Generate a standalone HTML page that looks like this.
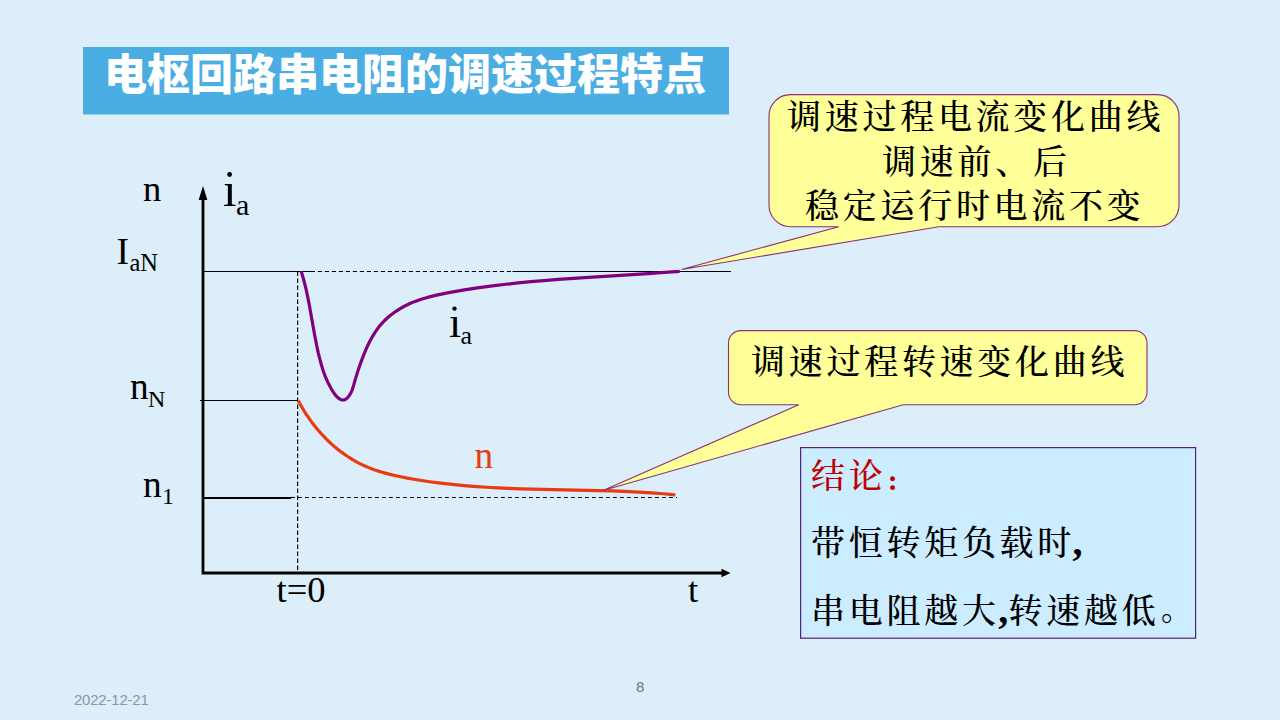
<!DOCTYPE html>
<html><head><meta charset="utf-8">
<style>
*{margin:0;padding:0;box-sizing:border-box}
html,body{width:1280px;height:720px;overflow:hidden}
body{background:#DBEEF9;position:relative}
svg{position:absolute;left:0;top:0}
.cj{font-family:"Liberation Serif","Noto Serif CJK SC",serif;font-size:34px;letter-spacing:3.72px;font-weight:500;fill:#000}
.lt{font-family:"Liberation Serif",serif;fill:#000}
.ti{font-family:"Liberation Sans","Noto Sans CJK SC",sans-serif;font-weight:900;font-size:43px;fill:#fff}
.cm{font-family:'Liberation Serif',serif;font-weight:bold;font-size:40px;letter-spacing:0}
.sm{font-family:"Liberation Sans",sans-serif;font-size:15px}
</style></head><body>
<svg width="1280" height="720" viewBox="0 0 1280 720">
 <rect x="83" y="47" width="646" height="67.5" fill="#4BAEE3"/>
 <text class="ti" x="104" y="90">电枢回路串电阻的调速过程特点</text>
 <g fill="none" stroke="#000">
  <line x1="203" y1="271.5" x2="315" y2="271.5" stroke-width="1.2"/>
  <line x1="317.8" y1="271.5" x2="512.5" y2="271.5" stroke-width="1.2" stroke-dasharray="4.2 2.8"/>
  <line x1="512.5" y1="271.5" x2="731" y2="271.5" stroke-width="1.2"/>
  <line x1="200" y1="400.5" x2="298" y2="400.5" stroke-width="1.2"/>
  <line x1="203" y1="498" x2="291" y2="498" stroke-width="2"/>
  <line x1="291" y1="497.5" x2="295" y2="497.5" stroke-width="1.2"/>
  <line x1="298" y1="497.5" x2="677" y2="497.5" stroke-width="1.2" stroke-dasharray="3.8 3.2"/>
  <line x1="297.6" y1="271.5" x2="297.6" y2="572" stroke-width="1.2" stroke-dasharray="4.4 2.6"/>
  <polyline points="203,198 203,573 723,573" stroke-width="2.8"/>
 </g>
 <polygon points="203,186 198.6,200 207.4,200" fill="#000"/>
 <polygon points="730.5,573 721.5,568.8 721.5,577.2" fill="#000"/>
 <path d="M301.20,271.30 L302.66,276.11 L304.08,281.23 L305.38,286.38 L306.70,292.10 L308.02,298.38 L309.35,305.22 L314.36,333.49 L316.74,345.80 L318.21,352.54 L319.70,358.70 L321.28,364.53 L322.81,369.55 L323.91,372.79 L325.02,375.77 L326.22,378.73 L327.54,381.68 L328.98,384.63 L330.42,387.32 L331.99,390.00 L333.53,392.44 L334.68,394.09 L335.92,395.66 L337.06,396.88 L338.28,397.97 L339.58,398.88 L340.70,399.45 L341.83,399.83 L342.95,399.97 L344.04,399.86 L345.10,399.49 L346.12,398.91 L347.09,398.13 L348.19,396.99 L349.21,395.66 L350.14,394.20 L351.10,392.39 L352.03,390.28 L352.97,387.61 L356.10,376.67 L358.89,368.02 L361.88,359.60 L364.72,352.36 L366.20,348.88 L367.78,345.43 L369.32,342.27 L370.83,339.39 L372.42,336.57 L374.09,333.81 L375.70,331.35 L377.40,328.95 L379.17,326.62 L380.87,324.58 L382.63,322.60 L384.66,320.51 L386.77,318.50 L388.95,316.58 L391.20,314.74 L393.53,312.99 L395.91,311.31 L398.58,309.58 L401.08,308.08 L403.86,306.53 L406.46,305.20 L409.34,303.83 L412.26,302.56 L415.21,301.38 L418.45,300.20 L421.97,299.02 L425.54,297.95 L429.39,296.88 L433.53,295.85 L437.70,294.89 L447.42,292.92 L461.40,290.44 L475.66,288.19 L490.46,286.13 L505.81,284.26 L518.00,282.94 L530.73,281.71 L543.99,280.55 L558.33,279.43 L584.91,277.59 L648.00,273.63 L664.78,272.45 L679.70,271.29" fill="none" stroke="#800080" stroke-width="3.2"/>
 <path d="M298.33,400.76 L300.28,404.36 L302.21,407.74 L304.34,411.25 L306.44,414.54 L308.74,417.95 L311.01,421.12 L313.48,424.41 L315.91,427.47 L318.40,430.46 L320.98,433.39 L323.62,436.24 L326.34,439.03 L329.12,441.73 L331.97,444.36 L334.89,446.91 L337.72,449.24 L340.60,451.49 L343.54,453.65 L346.53,455.74 L349.58,457.73 L352.68,459.63 L355.66,461.35 L358.86,463.06 L361.93,464.60 L365.04,466.04 L368.19,467.39 L371.58,468.73 L375.00,469.97 L378.46,471.13 L382.14,472.26 L386.06,473.37 L390.00,474.40 L398.17,476.28 L407.42,478.11 L418.32,480.00 L429.64,481.71 L440.78,483.17 L452.34,484.46 L464.12,485.58 L476.53,486.56 L486.71,487.23 L497.51,487.83 L508.72,488.34 L520.76,488.78 L543.02,489.39 L596.94,490.55 L611.43,490.97 L624.48,491.45 L638.33,492.10 L651.14,492.86 L663.53,493.77 L675.30,494.81" fill="none" stroke="#E93A10" stroke-width="3.2"/>
 <path d="M790.5,94.6 H1157.5 A21.5,21.5 0 0 1 1179,116.1 V205.2 A21.5,21.5 0 0 1 1157.5,226.7 H938.75 L681.5,269.5 L838.7,226.7 H790.5 A21.5,21.5 0 0 1 769,205.2 V116.1 A21.5,21.5 0 0 1 790.5,94.6 Z" fill="#FFFF99" stroke="#883370" stroke-width="1.1"/>
 <path d="M741,330.6 H1134.6 A12.4,12.4 0 0 1 1147,343 V392.35 A12.4,12.4 0 0 1 1134.6,404.75 H903.1 L603,490.5 L798.75,404.75 H741 A12.4,12.4 0 0 1 728.5,392.35 V343 A12.4,12.4 0 0 1 741,330.6 Z" fill="#FFFF99" stroke="#883370" stroke-width="1.1"/>
 <rect x="800.6" y="447.6" width="395" height="190.6" fill="#CCECFF" stroke="#55217A" stroke-width="1.2"/>
 <text class="cj" x="787" y="129">调速过程电流变化曲线</text>
 <text class="cj" x="882" y="174">调速前、后</text>
 <text class="cj" x="805" y="218">稳定运行时电流不变</text>
 <text class="cj" x="751" y="374">调速过程转速变化曲线</text>
 <text class="cj" x="811" y="488" style="fill:#C00000">结论<tspan dx="-0.5" dy="2.2" style="font-weight:900;font-size:23px">：</tspan></text>
 <text class="cj" x="811" y="555">带恒转矩负载时<tspan class="cm" x="1072.5">,</tspan></text>
 <text class="cj" x="811" y="623">串电阻越大<tspan class="cm" x="998.3">,</tspan><tspan x="1008.5">转速越低</tspan><tspan dx="1.5" dy="-3.2" style="font-size:31px;font-weight:700">。</tspan></text>
 <text class="lt" x="143" y="201" font-size="36.5">n</text>
 <clipPath id="ci1"><rect x="215" y="181.8" width="30" height="40"/></clipPath>
 <text class="lt" x="223" y="206" font-size="49" clip-path="url(#ci1)">i</text>
 <circle cx="229.6" cy="174.5" r="2.45" fill="#000"/>
 <text class="lt" x="236" y="215.3" font-size="30">a</text>
 <text class="lt" x="116.5" y="264" font-size="37.33">I</text>
 <text class="lt" x="129.5" y="271.3" font-size="24.5">aN</text>
 <text class="lt" x="130" y="399.4" font-size="37.33">n</text>
 <text class="lt" x="148" y="406.75" font-size="24">N</text>
 <text class="lt" x="143" y="496.6" font-size="37.33">n</text>
 <text class="lt" x="162" y="503.75" font-size="24">1</text>
 <clipPath id="ci2"><rect x="440" y="314.5" width="30" height="30"/></clipPath>
 <text class="lt" x="449" y="336.5" font-size="43.5" clip-path="url(#ci2)">i</text>
 <circle cx="454.5" cy="308.6" r="2.2" fill="#000"/>
 <text class="lt" x="460.5" y="344.4" font-size="26">a</text>
 <text class="lt" x="474.5" y="467.7" font-size="37.33" style="fill:#E93A10">n</text>
 <text class="lt" x="276.5" y="602.3" font-size="36.5">t=0</text>
 <text class="lt" x="688" y="602.3" font-size="36.5">t</text>
 <text class="sm" x="74" y="705" style="fill:#8A98A3;letter-spacing:-0.22px">2022-12-21</text>
 <text class="sm" x="636" y="692" style="fill:#707880">8</text>
</svg>
</body></html>
